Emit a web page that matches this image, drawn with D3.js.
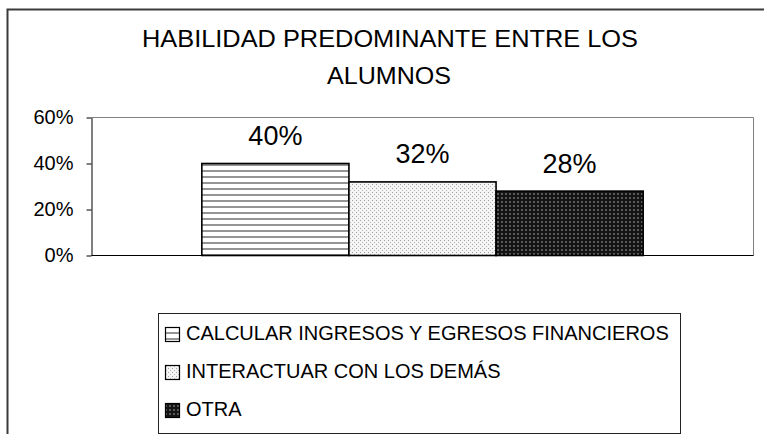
<!DOCTYPE html>
<html>
<head>
<meta charset="utf-8">
<script src="https://cdn.jsdelivr.net/npm/d3@7"></script>
<style>
  html, body { margin: 0; padding: 0; background: #fff; }
  svg { display: block; font-family: Arial, "Liberation Sans", sans-serif; }
</style>
</head>
<body>
<svg id="chart" width="764" height="434"></svg>
<script>
const titleLines = ["HABILIDAD PREDOMINANTE ENTRE LOS", "ALUMNOS"];
const categories = [""];
const seriesNames = ["CALCULAR INGRESOS Y EGRESOS FINANCIEROS", "INTERACTUAR CON LOS DEMÁS", "OTRA"];
const seriesValues = [0.40, 0.32, 0.28];
const valueLabels = ["40%", "32%", "28%"];
const yTicks = [0, 0.2, 0.4, 0.6];
const patternIds = ["pHoriz", "pDots", "pDark"];

const svg = d3.select("#chart");
const defs = svg.append("defs");

// horizontal lines pattern
const p1 = defs.append("pattern").attr("id", "pHoriz").attr("patternUnits", "userSpaceOnUse")
  .attr("width", 6).attr("height", 6);
p1.append("rect").attr("width", 6).attr("height", 6).attr("fill", "#fff");
p1.append("rect").attr("y", 2).attr("width", 6).attr("height", 2).attr("fill", "#959595");

// light dotted pattern
const p2 = defs.append("pattern").attr("id", "pDots").attr("patternUnits", "userSpaceOnUse")
  .attr("width", 4).attr("height", 4);
p2.append("rect").attr("width", 4).attr("height", 4).attr("fill", "#f4f4f4");
p2.append("rect").attr("x", 0).attr("y", 0).attr("width", 1).attr("height", 1).attr("fill", "#a0a0a0");
p2.append("rect").attr("x", 2).attr("y", 2).attr("width", 1).attr("height", 1).attr("fill", "#b8b8b8");

// dark pattern
const p3 = defs.append("pattern").attr("id", "pDark").attr("patternUnits", "userSpaceOnUse")
  .attr("width", 4).attr("height", 4);
p3.append("rect").attr("width", 4).attr("height", 4).attr("fill", "#141414");
p3.append("rect").attr("x", 1).attr("y", 1).attr("width", 2).attr("height", 2).attr("fill", "#707070");
p3.append("rect").attr("x", 1.5).attr("y", 1.5).attr("width", 1).attr("height", 1).attr("fill", "#141414");

// outer frame (left & top edges visible)
svg.append("path").attr("d", "M7.5,434 V9.5 H764").attr("fill", "none")
  .attr("stroke", "#3a3a3a").attr("stroke-width", 2);

// title
svg.append("text").attr("x", 390).attr("y", 46.5).attr("text-anchor", "middle")
  .attr("font-size", 24).attr("fill", "#000")
  .attr("textLength", 496).attr("lengthAdjust", "spacingAndGlyphs").text(titleLines[0]);
svg.append("text").attr("x", 389).attr("y", 84).attr("text-anchor", "middle")
  .attr("font-size", 24).attr("fill", "#000")
  .attr("textLength", 124).attr("lengthAdjust", "spacingAndGlyphs").text(titleLines[1]);

// plot area
const plot = { left: 91.5, right: 753.5, top: 117.5, bottom: 255.5 };

const x0 = d3.scaleBand().domain(categories).range([plot.left, plot.right])
  .paddingInner(0).paddingOuter(0.25);
const x1 = d3.scaleBand().domain(seriesNames).range([0, x0.bandwidth()]).padding(0);
const y = d3.scaleLinear().domain([0, 0.6]).range([plot.bottom, plot.top]);

// plot border (gray top/right)
svg.append("path")
  .attr("d", `M${plot.left},${plot.top} H${plot.right} V${plot.bottom}`)
  .attr("fill", "none").attr("stroke", "#808080").attr("stroke-width", 1);

// bars
const g = svg.append("g");
g.selectAll("rect.bar").data(seriesNames).join("rect")
  .attr("class", "bar")
  .attr("x", (d) => x0("") + x1(d))
  .attr("y", (d, i) => y(seriesValues[i]))
  .attr("width", x1.bandwidth())
  .attr("height", (d, i) => y(0) - y(seriesValues[i]))
  .attr("fill", (d, i) => `url(#${patternIds[i]})`)
  .attr("stroke", "#000").attr("stroke-width", 1.6);

// value labels
g.selectAll("text.val").data(seriesNames).join("text")
  .attr("class", "val")
  .attr("x", (d) => x0("") + x1(d) + x1.bandwidth() / 2)
  .attr("y", (d, i) => y(seriesValues[i]) - 18.5)
  .attr("text-anchor", "middle").attr("font-size", 27).attr("fill", "#000")
  .text((d, i) => valueLabels[i]);

// x axis line (bottom)
svg.append("line").attr("x1", plot.left).attr("x2", plot.right)
  .attr("y1", plot.bottom).attr("y2", plot.bottom)
  .attr("stroke", "#000").attr("stroke-width", 1);

// y axis
const yAxis = d3.axisLeft(y).tickValues(yTicks).tickFormat(d3.format(".0%"))
  .tickSize(5).tickSizeOuter(0).tickPadding(13);
const ya = svg.append("g").attr("transform", `translate(${plot.left},0)`).call(yAxis);
ya.select(".domain").attr("stroke", "#000");
ya.selectAll(".tick line").attr("stroke", "#000");
ya.selectAll(".tick text").attr("font-size", 20).attr("fill", "#000")
  .attr("font-family", "Arial, 'Liberation Sans', sans-serif").attr("dy", "0.32em");

// legend
const legend = svg.append("g");
legend.append("rect").attr("x", 158.5).attr("y", 313.5).attr("width", 522).attr("height", 120)
  .attr("fill", "#fff").attr("stroke", "#222").attr("stroke-width", 1);
const rowY = d3.scalePoint().domain(seriesNames).range([339.5, 415.5]);
const items = legend.selectAll("g.item").data(seriesNames).join("g").attr("class", "item");
items.append("rect")
  .attr("x", 165.5).attr("y", (d) => rowY(d) - 12)
  .attr("width", 14).attr("height", 14)
  .attr("fill", (d, i) => `url(#${patternIds[i]})`)
  .attr("stroke", "#000").attr("stroke-width", 1.2);
items.append("text")
  .attr("x", 186).attr("y", (d) => rowY(d))
  .attr("font-size", 20).attr("fill", "#000")
  .text((d) => d);
</script>
</body>
</html>
